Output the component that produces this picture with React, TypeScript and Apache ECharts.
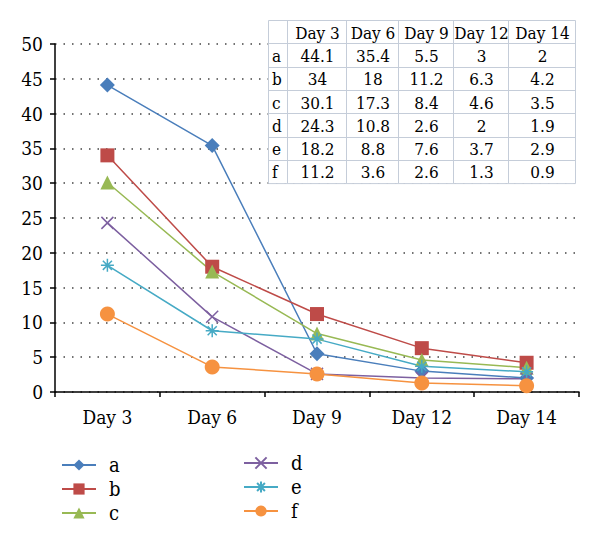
import React, { useEffect, useRef } from "react";
import * as echarts from "echarts";

const categories = ["Day 3", "Day 6", "Day 9", "Day 12", "Day 14"];
const seriesNames = ["a", "b", "c", "d", "e", "f"];
const aValues = [44.1, 35.4, 5.5, 3, 2];
const bValues = [34, 18, 11.2, 6.3, 4.2];
const cValues = [30.1, 17.3, 8.4, 4.6, 3.5];
const dValues = [24.3, 10.8, 2.6, 2, 1.9];
const eValues = [18.2, 8.8, 7.6, 3.7, 2.9];
const fValues = [11.2, 3.6, 2.6, 1.3, 0.9];
const yTicks = [0, 5, 10, 15, 20, 25, 30, 35, 40, 45, 50];

const allValues = [aValues, bValues, cValues, dValues, eValues, fValues];
const colors = ["#4A7EBB", "#BE4B48", "#98B954", "#7D60A0", "#46AAC5", "#F69240"];
const symbols = [
  "diamond",
  "rect",
  "triangle",
  "path://M0,0L10,10M10,0L0,10",
  "path://M0,5L10,5M5,0L5,10M1.5,1.5L8.5,8.5M8.5,1.5L1.5,8.5",
  "circle",
];
const symbolSizes = [15, 14, 14, 12, 13, 15];

const FONT = "DejaVu Serif Condensed, DejaVu Serif";

// table layout
const colEdges = [268, 287, 346, 398, 453, 508, 575];
const tableTop = 20;
const rowH = 23.3;

function buildTable() {
  const els: any[] = [];
  const nRows = seriesNames.length + 1;
  const left = colEdges[0];
  const right = colEdges[colEdges.length - 1];
  const bottom = tableTop + rowH * nRows;
  const stroke = "#c5cdd9";
  const txt = (text: string, x: number, y: number, align: string) => ({
    type: "text",
    x,
    y,
    style: { text, fontFamily: FONT, fontSize: 17, fill: "#000", align, verticalAlign: "middle" },
    z: 102,
  });
  els.push({
    type: "rect",
    shape: { x: left + 0.5, y: tableTop + 0.5, width: right - left, height: bottom - tableTop },
    style: { fill: "#ffffff", stroke, lineWidth: 1 },
    z: 100,
  });
  for (let i = 1; i < colEdges.length - 1; i++) {
    els.push({
      type: "line",
      shape: { x1: colEdges[i] + 0.5, y1: tableTop, x2: colEdges[i] + 0.5, y2: bottom },
      style: { stroke, lineWidth: 1 },
      z: 101,
    });
  }
  for (let r = 1; r < nRows; r++) {
    const y = Math.round(tableTop + rowH * r) + 0.5;
    els.push({
      type: "line",
      shape: { x1: left, y1: y, x2: right, y2: y },
      style: { stroke, lineWidth: 1 },
      z: 101,
    });
  }
  categories.forEach((c, j) => {
    els.push(txt(c, (colEdges[j + 1] + colEdges[j + 2]) / 2 + 1, tableTop + rowH / 2 + 1, "center"));
  });
  seriesNames.forEach((n, i) => {
    const cy = tableTop + rowH * (i + 1) + rowH / 2 + 1;
    els.push(txt(n, colEdges[0] + 4, cy, "left"));
    allValues[i].forEach((v, j) => {
      els.push(txt(String(v), (colEdges[j + 1] + colEdges[j + 2]) / 2 + 1, cy, "center"));
    });
  });
  return els;
}

export default function App() {
  const ref = useRef<HTMLDivElement>(null);
  useEffect(() => {
    document.body.style.margin = "0";
    if (!ref.current) return;
    const chart = echarts.init(ref.current, null, { renderer: "svg" });
    const legendText = { fontFamily: FONT, fontSize: 20, color: "#000", padding: [0, 0, 0, 8] };
    chart.setOption({
      animation: false,
      backgroundColor: "#ffffff",
      textStyle: { fontFamily: FONT },
      grid: { left: 55, right: 21, top: 44, bottom: 154, containLabel: false },
      legend: [
        {
          data: seriesNames.slice(0, 3),
          orient: "vertical",
          left: 56,
          top: 450,
          itemWidth: 34,
          itemHeight: 14,
          itemGap: 4,
          textStyle: legendText,
        },
        {
          data: seriesNames.slice(3),
          orient: "vertical",
          left: 238,
          top: 448,
          itemWidth: 34,
          itemHeight: 14,
          itemGap: 4,
          textStyle: legendText,
        },
      ],
      xAxis: {
        type: "category",
        data: categories,
        boundaryGap: true,
        axisLine: { show: true, lineStyle: { color: "#000", width: 1.5 } },
        axisTick: { show: true, length: 5, lineStyle: { color: "#000", width: 1.5 } },
        axisLabel: { fontFamily: FONT, fontSize: 19, color: "#000", margin: 15 },
        splitLine: { show: false },
      },
      yAxis: {
        type: "value",
        min: yTicks[0],
        max: yTicks[yTicks.length - 1],
        interval: yTicks[1] - yTicks[0],
        axisLine: { show: true, lineStyle: { color: "#000", width: 1.5 } },
        axisTick: { show: true, length: 5, lineStyle: { color: "#000", width: 1.5 } },
        axisLabel: { fontFamily: FONT, fontSize: 19, color: "#000", margin: 12 },
        splitLine: { show: true, lineStyle: { color: "#444", type: [1.5, 7], width: 1.5 } },
      },
      series: seriesNames.map((n, i) => ({
        name: n,
        type: "line",
        data: allValues[i],
        symbol: symbols[i],
        symbolSize: symbolSizes[i],
        lineStyle: { color: colors[i], width: 1.5 },
        itemStyle: {
          color: colors[i],
          borderColor: colors[i],
          borderWidth: i === 3 || i === 4 ? 1.5 : 0,
        },
        emphasis: { disabled: true },
      })),
      graphic: buildTable(),
    });
    return () => chart.dispose();
  }, []);
  return <div ref={ref} style={{ width: 600, height: 546 }} />;
}
